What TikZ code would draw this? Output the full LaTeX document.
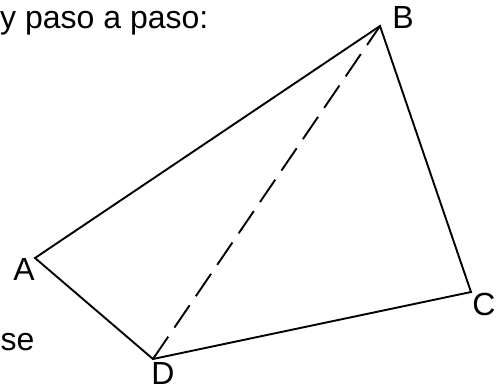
\documentclass[tikz,border=0pt]{standalone}
\usepackage{fontspec}
\setmainfont{Liberation Sans}
\begin{document}
\begin{tikzpicture}[x=1pt,y=-1pt,
  edge/.style={line width=1.9pt,black},
  lbl/.style={font=\fontsize{32}{36}\selectfont,inner sep=0pt}]
\useasboundingbox (0,0) rectangle (498,391);
\coordinate (A) at (35,258);
\coordinate (B) at (380,26);
\coordinate (C) at (471,292);
\coordinate (D) at (153,359);
\draw[edge,line join=miter] (A) -- (B) -- (C) -- (D) -- cycle;
\draw[edge,dash pattern=on 27pt off 11pt] (D) -- (B);
\node[lbl,anchor=base west] (t1) at (0,28) {y paso a paso:};
\node[lbl,anchor=base west] (t2) at (0.5,350) {se};
\node[lbl,anchor=base] (la) at (24,280) {A};
\node[lbl,anchor=base] (lb) at (403,28) {B};
\node[lbl,anchor=base] (lc) at (484,315) {C};
\node[lbl,anchor=base] (ld) at (163,384) {D};
\end{tikzpicture}
\end{document}
